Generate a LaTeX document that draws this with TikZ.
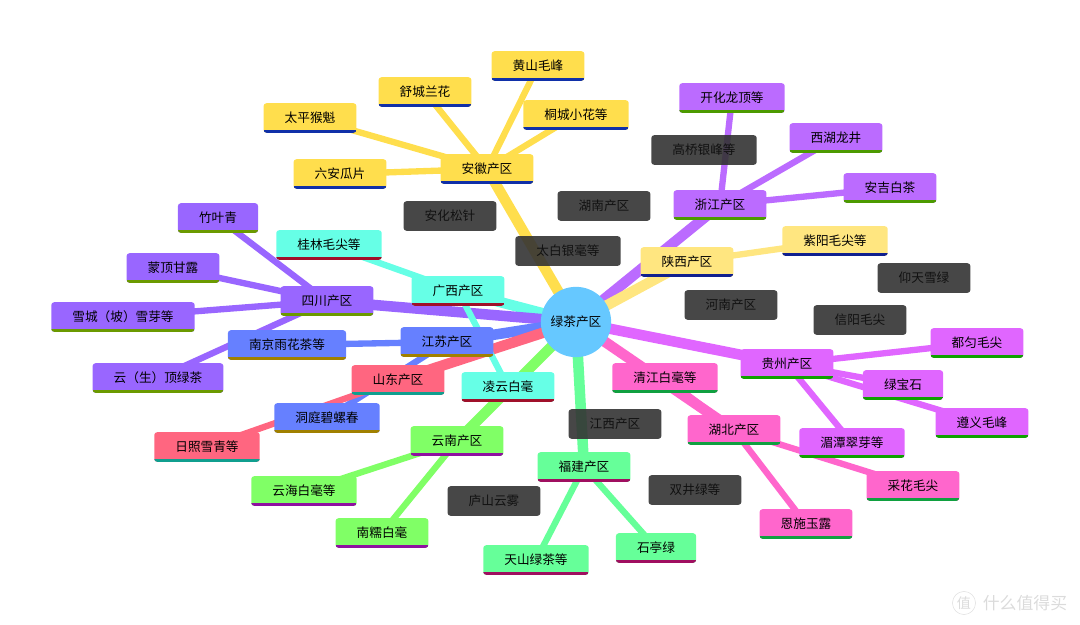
\documentclass[tikz,border=0pt]{standalone}
\usepackage{fontspec}
\setmainfont{Noto Sans CJK SC}
\usetikzlibrary{backgrounds}

\definecolor{centerblue}{HTML}{66C8FF}
\definecolor{darkbox}{HTML}{333333}
\definecolor{darktext}{HTML}{111111}
\definecolor{anhui}{HTML}{FFDE4D}    \definecolor{anhuiline}{HTML}{1030A8}
\definecolor{zhejiang}{HTML}{BB6BFF} \definecolor{zhejiangline}{HTML}{4C9A00}
\definecolor{shaanxi}{HTML}{FFE680}  \definecolor{shaanxiline}{HTML}{10208F}
\definecolor{guangxi}{HTML}{66FFE6}  \definecolor{guangxiline}{HTML}{A0102A}
\definecolor{sichuan}{HTML}{9966FF}  \definecolor{sichuanline}{HTML}{6B9A00}
\definecolor{jiangsu}{HTML}{6680FF}  \definecolor{jiangsuline}{HTML}{A08000}
\definecolor{shandong}{HTML}{FF6680} \definecolor{shandongline}{HTML}{109F8F}
\definecolor{yunnan}{HTML}{80FF66}   \definecolor{yunnanline}{HTML}{8F10A0}
\definecolor{fujian}{HTML}{66FF99}   \definecolor{fujianline}{HTML}{A00F60}
\definecolor{hubei}{HTML}{FF66CC}    \definecolor{hubeiline}{HTML}{10A040}
\definecolor{guizhou}{HTML}{E066FF}  \definecolor{guizhouline}{HTML}{10A000}

\begin{document}
\begin{tikzpicture}[x=0.025cm,y=-0.025cm,font=\fontsize{9}{11}\selectfont,
  tea node/.style 2 args={fill=#1,rounded corners=2pt,inner xsep=15pt,inner ysep=0pt,minimum height=21pt,
    path picture={\fill[#2,sharp corners] (path picture bounding box.south west) rectangle ([yshift=2.2pt]path picture bounding box.south east);}},
  dark node/.style={preaction={fill=darkbox,fill opacity=0.9},text=darktext,rounded corners=2pt,inner xsep=15pt,inner ysep=0pt,minimum height=21pt},
  trunk/.style={draw=#1,line width=7.5pt},
  twig/.style={draw=#1,line width=4.5pt}]
  \useasboundingbox (0,0) rectangle (1080,625);

  \node[circle,fill=centerblue,minimum size=50pt,inner sep=0pt] (c) at (576,322) {绿茶产区};

  % regions
  \node[tea node={anhui}{anhuiline}] (ah) at ([shift={(-89,-153)}]c.center) {安徽产区};
  \node[tea node={zhejiang}{zhejiangline}] (zj) at ([shift={(144,-117)}]c.center) {浙江产区};
  \node[tea node={shaanxi}{shaanxiline}] (sx) at ([shift={(111,-60)}]c.center) {陕西产区};
  \node[tea node={guangxi}{guangxiline}] (gx) at ([shift={(-118,-31)}]c.center) {广西产区};
  \node[tea node={sichuan}{sichuanline}] (sc) at ([shift={(-249,-21)}]c.center) {四川产区};
  \node[tea node={jiangsu}{jiangsuline}] (js) at ([shift={(-129,20)}]c.center) {江苏产区};
  \node[tea node={shandong}{shandongline}] (sd) at ([shift={(-178,58)}]c.center) {山东产区};
  \node[tea node={yunnan}{yunnanline}] (yn) at ([shift={(-119,119)}]c.center) {云南产区};
  \node[tea node={fujian}{fujianline}] (fj) at ([shift={(8,145)}]c.center) {福建产区};
  \node[tea node={hubei}{hubeiline}] (hb) at ([shift={(158,108)}]c.center) {湖北产区};
  \node[tea node={guizhou}{guizhouline}] (gz) at ([shift={(211,42)}]c.center) {贵州产区};

  %anhui
  \node[tea node={anhui}{anhuiline}] (ah1) at ([shift={(51,-103)}]ah.center) {黄山毛峰};
  \node[tea node={anhui}{anhuiline}] (ah2) at ([shift={(-62,-77)}]ah.center) {舒城兰花};
  \node[tea node={anhui}{anhuiline}] (ah3) at ([shift={(-177,-51)}]ah.center) {太平猴魁};
  \node[tea node={anhui}{anhuiline}] (ah4) at ([shift={(89,-54)}]ah.center) {桐城小花等};
  \node[tea node={anhui}{anhuiline}] (ah5) at ([shift={(-147,5)}]ah.center) {六安瓜片};
  %zhejiang
  \node[tea node={zhejiang}{zhejiangline}] (zj1) at ([shift={(12,-107)}]zj.center) {开化龙顶等};
  \node[tea node={zhejiang}{zhejiangline}] (zj2) at ([shift={(116,-67)}]zj.center) {西湖龙井};
  \node[tea node={zhejiang}{zhejiangline}] (zj3) at ([shift={(170,-17)}]zj.center) {安吉白茶};
  %shaanxi
  \node[tea node={shaanxi}{shaanxiline}] (sx1) at ([shift={(148,-21)}]sx.center) {紫阳毛尖等};
  %guangxi
  \node[tea node={guangxi}{guangxiline}] (gx1) at ([shift={(-129,-46)}]gx.center) {桂林毛尖等};
  \node[tea node={guangxi}{guangxiline}] (gx2) at ([shift={(50,96)}]gx.center) {凌云白毫};
  %sichuan
  \node[tea node={sichuan}{sichuanline}] (sc1) at ([shift={(-109,-83)}]sc.center) {竹叶青};
  \node[tea node={sichuan}{sichuanline}] (sc2) at ([shift={(-154,-33)}]sc.center) {蒙顶甘露};
  \node[tea node={sichuan}{sichuanline}] (sc3) at ([shift={(-204,16)}]sc.center) {雪城（坡）雪芽等};
  \node[tea node={sichuan}{sichuanline}] (sc4) at ([shift={(-169,77)}]sc.center) {云（生）顶绿茶};
  %jiangsu
  \node[tea node={jiangsu}{jiangsuline}] (js1) at ([shift={(-160,3)}]js.center) {南京雨花茶等};
  \node[tea node={jiangsu}{jiangsuline}] (js2) at ([shift={(-120,76)}]js.center) {洞庭碧螺春};
  %shandong
  \node[tea node={shandong}{shandongline}] (sd1) at ([shift={(-191,67)}]sd.center) {日照雪青等};
  %yunnan
  \node[tea node={yunnan}{yunnanline}] (yn1) at ([shift={(-153,50)}]yn.center) {云海白毫等};
  \node[tea node={yunnan}{yunnanline}] (yn2) at ([shift={(-75,92)}]yn.center) {南糯白毫};
  %fujian
  \node[tea node={fujian}{fujianline}] (fj1) at ([shift={(-48,93)}]fj.center) {天山绿茶等};
  \node[tea node={fujian}{fujianline}] (fj2) at ([shift={(72,81)}]fj.center) {石亭绿};
  %hubei
  \node[tea node={hubei}{hubeiline}] (hb1) at ([shift={(-69,-52)}]hb.center) {清江白毫等};
  \node[tea node={hubei}{hubeiline}] (hb2) at ([shift={(72,94)}]hb.center) {恩施玉露};
  \node[tea node={hubei}{hubeiline}] (hb3) at ([shift={(179,56)}]hb.center) {采花毛尖};
  %guizhou
  \node[tea node={guizhou}{guizhouline}] (gz1) at ([shift={(190,-21)}]gz.center) {都匀毛尖};
  \node[tea node={guizhou}{guizhouline}] (gz2) at ([shift={(116,21)}]gz.center) {绿宝石};
  \node[tea node={guizhou}{guizhouline}] (gz3) at ([shift={(195,59)}]gz.center) {遵义毛峰};
  \node[tea node={guizhou}{guizhouline}] (gz4) at ([shift={(65,79)}]gz.center) {湄潭翠芽等};

  % loose ones
  \node[dark node] (d1) at (704,150) {高桥银峰等};
  \node[dark node] (d2) at (450,216) {安化松针};
  \node[dark node] (d3) at (604,206) {湖南产区};
  \node[dark node] (d4) at (568,251) {太白银毫等};
  \node[dark node] (d5) at (924,278) {仰天雪绿};
  \node[dark node] (d6) at (731,305) {河南产区};
  \node[dark node] (d7) at (860,320) {信阳毛尖};
  \node[dark node] (d8) at (615,424) {江西产区};
  \node[dark node] (d9) at (695,490) {双井绿等};
  \node[dark node] (d10) at (494,501) {庐山云雾};

  \node[circle,draw=black!12,text=black!14,inner sep=1pt,font=\fontsize{10}{12}\selectfont] (wmlogo) at (964,603) {值};
  \node[text=black!14,font=\fontsize{12}{14}\selectfont] (wm) at (1025,603) {什么值得买};

  \begin{scope}[on background layer]
    \foreach \r/\col in {ah/anhui,zj/zhejiang,sx/shaanxi,gx/guangxi,sc/sichuan,js/jiangsu,
                         sd/shandong,yn/yunnan,fj/fujian,hb/hubei,gz/guizhou}
      \draw[trunk=\col] (c.center) -- (\r.center);
    \foreach \r/\l/\col in {ah/ah1/anhui,ah/ah2/anhui,ah/ah3/anhui,ah/ah4/anhui,ah/ah5/anhui,
                            zj/zj1/zhejiang,zj/zj2/zhejiang,zj/zj3/zhejiang,sx/sx1/shaanxi,
                            gx/gx1/guangxi,gx/gx2/guangxi,
                            sc/sc1/sichuan,sc/sc2/sichuan,sc/sc3/sichuan,sc/sc4/sichuan,
                            js/js1/jiangsu,js/js2/jiangsu,sd/sd1/shandong,
                            yn/yn1/yunnan,yn/yn2/yunnan,fj/fj1/fujian,fj/fj2/fujian,
                            hb/hb1/hubei,hb/hb2/hubei,hb/hb3/hubei,
                            gz/gz1/guizhou,gz/gz2/guizhou,gz/gz3/guizhou,gz/gz4/guizhou}
      \draw[twig=\col] (\r.center) -- (\l.center);
  \end{scope}
\end{tikzpicture}
\end{document}
